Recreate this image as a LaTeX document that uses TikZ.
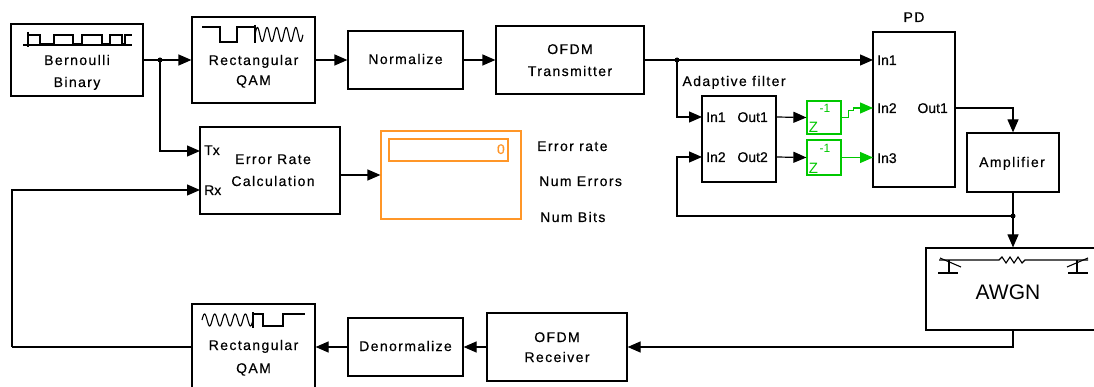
\documentclass[tikz,border=0pt]{standalone}
\usepackage{fontspec}
\setmainfont{Liberation Sans}
\newfontfamily\lblfont[LetterSpace=10,FakeBold=0.4]{Liberation Sans}
\newfontfamily\portfont[FakeBold=0.4]{Liberation Sans}
\usetikzlibrary{arrows.meta}
\definecolor{simgreen}{RGB}{0,200,0}
\definecolor{simorange}{RGB}{255,150,40}
\begin{document}
\begin{tikzpicture}[x=1pt,y=-1pt,
  blk/.style={draw, line width=1.2pt, inner sep=0pt},
  thk/.style={draw, line width=2.6pt, inner sep=0pt},
  txt/.style={font=\lblfont\fontsize{14}{16}\selectfont, inner sep=0pt, text height=10pt, text depth=0pt},
  port/.style={font=\portfont\fontsize{14}{16}\selectfont, inner sep=0pt, text height=10pt, text depth=0pt},
  wire/.style={line width=1.2pt},
  arr/.style={wire, -{Triangle[length=13pt,width=11pt]}},
  jdot/.style={circle, fill, inner sep=0pt, minimum size=5pt},
  icon/.style={line width=1.1pt},
]
\useasboundingbox (0,0) rectangle (1094,387);
\fill[white] (0,0) rectangle (1094,387);
\clip (0,0) rectangle (1094,387);

% ---------- blocks ----------
\node[blk, minimum width=132pt, minimum height=72pt] (bern) at (77,60) {};
\node[blk, minimum width=123pt, minimum height=86pt] (qam1) at (253.5,60) {};
\node[blk, minimum width=115pt, minimum height=58pt] (norm) at (405.5,60) {};
\node[blk, minimum width=148pt, minimum height=68pt] (ofdmtx) at (570,60) {};
\node[blk, minimum width=140pt, minimum height=87pt] (err) at (270,170.5) {};
\node[blk, draw=simorange, minimum width=140pt, minimum height=88pt] (disp) at (451,175) {};
\node[blk, draw=simorange, minimum width=119pt, minimum height=22pt] (dispin) at (448.5,150) {};
\node[thk, minimum width=74pt, minimum height=86pt] (adapt) at (739,139) {};
\node[blk, draw=simgreen, minimum width=34pt, minimum height=33pt] (d1) at (824,117.5) {};
\node[blk, draw=simgreen, minimum width=34pt, minimum height=35pt] (d2) at (824,157.5) {};
\node[thk, minimum width=82pt, minimum height=155pt] (pd) at (914,109.5) {};
\node[blk, minimum width=92pt, minimum height=59pt] (amp) at (1013,162.5) {};
\node[blk, minimum width=174pt, minimum height=82pt] (awgn) at (1013,289) {};
\node[blk, minimum width=140pt, minimum height=68pt] (ofdmrx) at (557,347) {};
\node[blk, minimum width=115pt, minimum height=58pt] (denorm) at (405.5,347) {};
\node[blk, minimum width=123pt, minimum height=86pt] (qam2) at (253.5,347) {};

% ---------- texts ----------
\node[txt] (t1) at (77,60) {Bernoulli};
\node[txt] (t2) at (77,82) {Binary};
\node[txt] (t3) at (253.5,60) {Rectangular};
\node[txt] (t4) at (253.5,80) {QAM};
\node[txt] (t5) at (405.5,59) {Normalize};
\node[txt] (t6) at (570,49) {OFDM};
\node[txt] (t7) at (570,71) {Transmitter};
\node[txt] (t8) at (273,159) {Error Rate};
\node[txt] (t9) at (273,181) {Calculation};
\node[port, anchor=west] (tx) at (204,150) {Tx};
\node[port, anchor=west] (rx) at (204,190) {Rx};
\node[port, anchor=east, text=simorange] (zero) at (505,149) {0};
\node[txt, anchor=west] (l1) at (537,146) {Error rate};
\node[txt, anchor=west] (l2) at (539,181) {Num Errors};
\node[txt, anchor=west] (l3) at (540,217) {Num Bits};
\node[txt] (af) at (734,81) {Adaptive filter};
\node[port, anchor=west] (ai1) at (706,117) {In1};
\node[port, anchor=east] (ao1) at (768,117) {Out1};
\node[port, anchor=west] (ai2) at (706,157) {In2};
\node[port, anchor=east] (ao2) at (768,157) {Out2};
\node[txt] (pdl) at (914,17) {PD};
\node[port, anchor=west] (pi1) at (877,60) {In1};
\node[port, anchor=west] (pi2) at (877,108) {In2};
\node[port, anchor=west] (pi3) at (877,158) {In3};
\node[port, anchor=east] (po1) at (948,108) {Out1};
\node[txt] (t10) at (1012,162) {Amplifier};
\node[inner sep=0pt, font=\fontsize{21}{24}\selectfont, text height=15pt, text depth=0pt] (t11) at (1008,292) {AWGN};
\node[txt] (t12) at (557,337) {OFDM};
\node[txt] (t13) at (557,357) {Receiver};
\node[txt] (t14) at (405.5,346) {Denormalize};
\node[txt] (t15) at (253.5,345) {Rectangular};
\node[txt] (t16) at (253.5,368) {QAM};
% z^-1 labels
\node[inner sep=0pt, text=simgreen, font=\fontsize{15}{16}\selectfont, text height=11pt, text depth=0pt] (z1) at (813.5,127.5) {Z};
\node[inner sep=0pt, text=simgreen, font=\fontsize{12}{13}\selectfont, text height=8.6pt, text depth=0pt] (e1) at (825,108) {-1};
\node[inner sep=0pt, text=simgreen, font=\fontsize{15}{16}\selectfont, text height=11pt, text depth=0pt] (z2) at (813.5,168.5) {Z};
\node[inner sep=0pt, text=simgreen, font=\fontsize{12}{13}\selectfont, text height=8.6pt, text depth=0pt] (e2) at (825,148) {-1};

% ---------- icons ----------
% Bernoulli
\draw[icon] (23,45) -- (132,45);
\draw[icon] (28,32) -- (28,47);
\draw[icon] (28,35) -- (40,35) -- (40,44) -- (54,44) -- (54,35) -- (73,35) -- (73,44) -- (82,44)
  -- (82,35) -- (102,35) -- (102,44) -- (110,44) -- (110,35) -- (122,35) -- (122,44) -- (125,44) -- (125,35) -- (132,35);
% QAM modulator
\draw[icon] (202,27) -- (220,27) -- (220,42) -- (237,42) -- (237,27) -- (255,27);
\draw[icon] (255,25) -- (255,43);
\draw[icon] plot[domain=0:1, samples=120] ({255+48*\x}, {34.5-7*sin(5*360*\x)});
% QAM demodulator
\draw[icon] plot[domain=0:1, samples=120] ({202+51*\x}, {320-6*sin(5*360*\x)});
\draw[icon] (253,312) -- (253,328);
\draw[icon] (253,314) -- (263,314) -- (263,326) -- (283,326) -- (283,314) -- (305,314);
% AWGN channel icon
\draw[icon] (939,260) -- (999,260) -- (1002,257) -- (1006,263) -- (1010,257) -- (1014,263) -- (1018,257) -- (1022,263) -- (1025,260) -- (1088,260);
\draw[icon] (949,260) -- (949,273);
\draw[icon] (938,273) -- (958,273);
\draw[icon] (940,258) -- (961,267);
\draw[icon] (1077,260) -- (1077,273);
\draw[icon] (1068,273) -- (1088,273);
\draw[icon] (1088,258) -- (1067,267);

% ---------- junctions / port coordinates ----------
\coordinate (j1) at (160,60);
\coordinate (j2) at (677,60);
\coordinate (j3) at (1013,216);
\coordinate (errTx) at (200,151);
\coordinate (errRx) at (200,190);
\coordinate (adIn1) at (702,117);
\coordinate (adIn2) at (702,157);
\coordinate (adOut1) at (776,117);
\coordinate (adOut2) at (776,157);
\coordinate (pdIn1) at (873,60);
\coordinate (pdIn2) at (873,108);
\coordinate (pdIn3) at (873,157.5);
\coordinate (pdOut) at (955,108);
\coordinate (leftcorner) at (12,347);

% ---------- connectors ----------
\draw[wire] (bern.east) -- (j1);
\draw[arr] (j1) -- (qam1.west);
\draw[arr] (j1) |- (errTx);
\draw[arr] (qam1.east) -- (norm.west);
\draw[arr] (norm.east) -- (ofdmtx.west);
\draw[wire] (ofdmtx.east) -- (j2);
\draw[arr] (j2) -- (pdIn1);
\draw[arr] (j2) |- (adIn1);
\draw[arr] (adOut1) -- (d1.west);
\draw[arr] (adOut2) -- (d2.west);
\draw[arr, simgreen] (d1.east) -- ++(7,0) -- ++(0,-7) -- ++(5,0) |- (pdIn2);
\draw[arr, simgreen] (d2.east) -- (pdIn3);
\draw[arr] (pdOut) -| (amp.north);
\draw[wire] (amp.south) -- (j3);
\draw[arr] (j3) -- (awgn.north);
\draw[arr] (j3) -| (677,190) |- (adIn2);
\draw[arr] (awgn.south) |- (ofdmrx.east);
\draw[arr] (ofdmrx.west) -- (denorm.east);
\draw[arr] (denorm.west) -- (qam2.east);
\draw[wire] (qam2.west) -- (leftcorner);
\draw[arr] (leftcorner) |- (errRx);
\draw[arr] (err.east |- disp.west) -- (disp.west);

\node[jdot] (dot1) at (j1) {};
\node[jdot] (dot2) at (j2) {};
\node[jdot] (dot3) at (j3) {};
\end{tikzpicture}
\end{document}
